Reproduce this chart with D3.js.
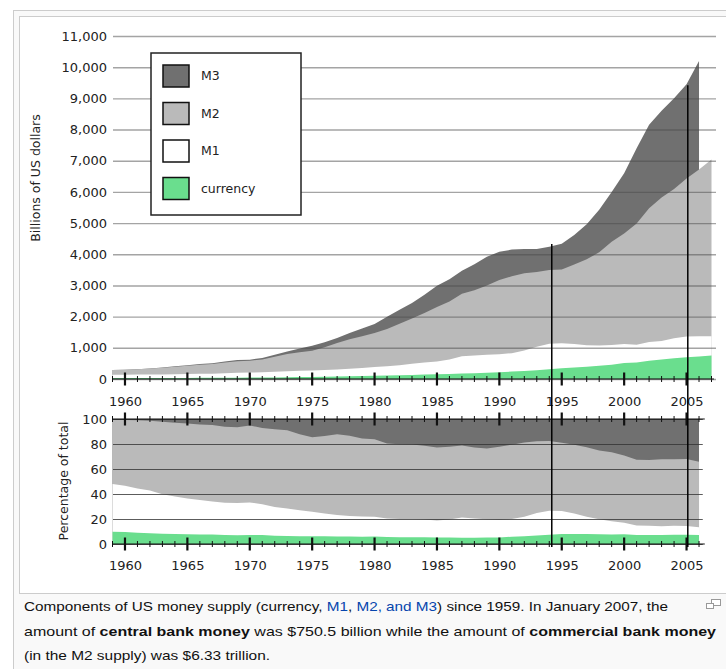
<!DOCTYPE html>
<html>
<head>
<meta charset="utf-8">
<script src="https://cdn.jsdelivr.net/npm/d3@7"></script>
<style>
  body { margin: 0; background: #fff; }
  svg text { font-family: "DejaVu Sans", sans-serif; }
  .caption text { font-family: "Liberation Sans", Arial, sans-serif; font-size: 13px; fill: #111; }
  .caption .link { fill: #0645ad; }
  .caption .b { font-weight: bold; }
</style>
</head>
<body>
<div id="chart"></div>
<script>
// US money supply, January values, billions of dollars
var years = d3.range(1959, 2008);

var currency = [28.4, 28.9, 28.7, 29.4, 30.6, 32.4, 34.0, 36.1, 38.0, 40.2,
  42.8, 45.2, 48.7, 52.0, 56.0, 61.0, 67.0, 73.4, 80.0, 87.4,
  95.5, 104.5, 113.5, 121.5, 131.5, 143.5, 153.0, 163.5, 174.5, 187.0,
  201.0, 213.0, 240.0, 259.0, 284.0, 311.0, 345.0, 368.0, 394.0, 424.0,
  459.0, 516.0, 532.0, 582.0, 627.0, 663.0, 701.0, 725.0, 750.5];

var m1 = [138.9, 140.0, 140.5, 145.2, 148.0, 153.7, 160.7, 168.6, 171.9, 184.3,
  198.7, 206.2, 215.5, 230.1, 251.5, 264.1, 274.0, 288.4, 306.4, 330.0,
  356.0, 382.7, 405.9, 441.9, 485.7, 527.1, 561.2, 628.1, 733.2, 753.0,
  779.3, 795.4, 827.2, 910.4, 1034.5, 1131.8, 1149.6, 1123.9, 1080.9, 1072.4,
  1093.7, 1122.6, 1096.6, 1190.6, 1219.6, 1306.6, 1365.8, 1374.6, 1367.0];

var m2 = [286.6, 298.2, 312.8, 335.5, 363.2, 393.2, 424.7, 459.2, 481.0, 525.4,
  566.8, 587.9, 628.1, 712.7, 805.2, 861.0, 908.7, 1019.5, 1155.4, 1273.3,
  1367.2, 1474.6, 1603.7, 1769.7, 1941.5, 2120.1, 2307.7, 2487.9, 2736.0, 2844.3,
  2998.5, 3172.8, 3296.2, 3389.1, 3431.0, 3494.8, 3514.0, 3669.0, 3840.6, 4063.1,
  4402.5, 4668.6, 4988.8, 5475.3, 5824.6, 6096.0, 6432.2, 6717.6, 7040.0];

// M3 was discontinued in 2006
var m3 = [288.8, 300.6, 316, 340, 371, 405, 441, 480, 505, 560,
  607, 620, 677, 777, 885, 980, 1065, 1180, 1317, 1472,
  1620, 1760, 1996, 2220, 2440, 2700, 2990, 3200, 3470, 3680,
  3920, 4080, 4150, 4170, 4170, 4240, 4340, 4620, 4960, 5430,
  6000, 6600, 7400, 8150, 8600, 9000, 9450, 10200, null];

var yTicks = d3.range(0, 11001, 1000);
var pctTicks = [0, 20, 40, 60, 80, 100];
var labelYears = d3.range(1960, 2006, 5);
var markerYears = [1994.2, 2005.1];
var markerTops = [4330, 9420];

var legendNames = ["M3", "M2", "M1", "currency"];
var keys = ["m3", "m2", "m1", "currency"];
var colors = { m3: "#707070", m2: "#bababa", m1: "#ffffff", currency: "#6ade8e" };

var rows = years.map(function (yr, i) {
  return { year: yr, currency: currency[i], m1: m1[i], m2: m2[i], m3: m3[i] };
});

var width = 726, height = 669;

var svg = d3.select("#chart").append("svg")
  .attr("width", width)
  .attr("height", height);

// thumbnail frame (wiki style)
svg.append("rect").attr("x", 13.5).attr("y", 10.5).attr("width", 730).attr("height", 680)
  .attr("fill", "#f9f9f9").attr("stroke", "#cccccc");
svg.append("rect").attr("x", 19.5).attr("y", 16.5).attr("width", 720).attr("height", 577)
  .attr("fill", "#ffffff").attr("stroke", "#cccccc");

var x = d3.scaleLinear().domain([1959, 2007.2]).range([112.5, 714]);
var yTop = d3.scaleLinear().domain([0, 11000]).range([379, 36]);
var yBot = d3.scaleLinear().domain([0, 100]).range([544, 419]);

var gridLeft = 113;
var topRight = 716;
var botRight = x(2006.3);

/*************** top chart ***************/
var topAreas = svg.append("g");
keys.forEach(function (k) {
  var area = d3.area()
    .defined(function (d) { return d[k] != null; })
    .x(function (d) { return x(d.year); })
    .y0(yTop(0))
    .y1(function (d) { return yTop(d[k]); });
  topAreas.append("path")
    .datum(rows)
    .attr("d", area)
    .attr("fill", colors[k]);
});

var yAxisTop = d3.axisLeft(yTop)
  .tickValues(yTicks)
  .tickFormat(d3.format(","))
  .tickSize(-(topRight - gridLeft))
  .tickPadding(6);

var gTop = svg.append("g")
  .attr("transform", "translate(" + gridLeft + ",0)")
  .call(yAxisTop);
gTop.select(".domain").remove();
gTop.selectAll(".tick line")
  .attr("stroke", "#4a4a4a").attr("stroke-opacity", 0.5).attr("stroke-width", 1.4);
gTop.selectAll(".tick text").attr("font-size", 13).attr("fill", "#222")
  .attr("font-family", "DejaVu Sans");

svg.append("text")
  .attr("transform", "translate(40,178) rotate(-90)")
  .attr("text-anchor", "middle")
  .attr("font-size", 12.5)
  .attr("fill", "#222")
  .text("Billions of US dollars");

/*************** bottom chart ***************/
var pctRows = rows.filter(function (d) { return d.m3 != null; });

var botAreas = svg.append("g");
keys.forEach(function (k) {
  var area = d3.area()
    .x(function (d) { return x(d.year); })
    .y0(yBot(0))
    .y1(function (d) { return yBot(d[k] / d.m3 * 100); });
  botAreas.append("path")
    .datum(pctRows)
    .attr("d", area)
    .attr("fill", colors[k]);
});

var yAxisBot = d3.axisLeft(yBot)
  .tickValues(pctTicks)
  .tickSize(-(botRight - gridLeft))
  .tickPadding(6);

var gBot = svg.append("g")
  .attr("transform", "translate(" + gridLeft + ",0)")
  .call(yAxisBot);
gBot.select(".domain").remove();
gBot.selectAll(".tick line")
  .attr("stroke", "#333").attr("stroke-opacity", 0.8).attr("stroke-width", 1.2);
gBot.selectAll(".tick text").attr("font-size", 13).attr("fill", "#222")
  .attr("font-family", "DejaVu Sans");

svg.append("text")
  .attr("transform", "translate(68,481) rotate(-90)")
  .attr("text-anchor", "middle")
  .attr("font-size", 12.5)
  .attr("fill", "#222")
  .text("Percentage of total");

/*************** x axes with year ticks ***************/
function yearTicks(yPos, lastYear, endX) {
  var g = svg.append("g");
  g.append("line")
    .attr("x1", gridLeft).attr("x2", endX)
    .attr("y1", yPos).attr("y2", yPos)
    .attr("stroke", "#111").attr("stroke-width", 1.2);
  d3.range(1959, Math.floor(lastYear) + 1).forEach(function (yr) {
    var major = yr % 5 === 0;
    g.append("line")
      .attr("x1", x(yr)).attr("x2", x(yr))
      .attr("y1", yPos - (major ? 6.5 : 3)).attr("y2", yPos + (major ? 6.5 : 3))
      .attr("stroke", "#111")
      .attr("stroke-width", major ? 2.2 : 1);
  });
}

function yearLabels(yPos, pad) {
  var axis = d3.axisBottom(x).tickValues(labelYears).tickFormat(d3.format("d"))
    .tickSize(0).tickPadding(pad);
  var g = svg.append("g").attr("transform", "translate(0," + yPos + ")").call(axis);
  g.select(".domain").remove();
  g.selectAll(".tick text").attr("font-size", 13).attr("fill", "#222")
    .attr("font-family", "DejaVu Sans");
}

yearTicks(yTop(0), 2007.2, 714);
yearLabels(yTop(0), 17.5);
yearTicks(yBot(100), 2006.3, botRight + 2);
yearTicks(yBot(0), 2006.3, botRight + 2);
yearLabels(yBot(0), 16.5);

/*************** marker lines ***************/
markerYears.forEach(function (yr, i) {
  svg.append("line")
    .attr("x1", x(yr)).attr("x2", x(yr))
    .attr("y1", yTop(markerTops[i])).attr("y2", yBot(0) + 3)
    .attr("stroke", "#000").attr("stroke-width", 1.5);
});

/*************** legend ***************/
var legend = svg.append("g");
legend.append("rect")
  .attr("x", 151).attr("y", 53).attr("width", 150).attr("height", 162)
  .attr("fill", "#fff").attr("stroke", "#222").attr("stroke-width", 1.5);

legendNames.forEach(function (name, i) {
  var yy = 65 + i * 37.5;
  legend.append("rect")
    .attr("x", 163).attr("y", yy).attr("width", 26).attr("height", 22)
    .attr("fill", colors[keys[i]]).attr("stroke", "#111").attr("stroke-width", 1.5);
  legend.append("text")
    .attr("x", 201).attr("y", yy + 11).attr("dy", "0.35em")
    .attr("font-size", 12.5).attr("fill", "#222")
    .text(name);
});

/*************** caption ***************/
var cap = svg.append("g").attr("class", "caption");

var l1 = cap.append("text").attr("x", 24).attr("y", 611)
  .attr("textLength", 644).attr("lengthAdjust", "spacingAndGlyphs");
l1.append("tspan").text("Components of US money supply (currency, ");
l1.append("tspan").attr("class", "link").text("M1");
l1.append("tspan").text(", ");
l1.append("tspan").attr("class", "link").text("M2, and M3");
l1.append("tspan").text(") since 1959. In January 2007, the");

var l2 = cap.append("text").attr("x", 24).attr("y", 636)
  .attr("textLength", 692).attr("lengthAdjust", "spacingAndGlyphs");
l2.append("tspan").text("amount of ");
l2.append("tspan").attr("class", "b").text("central bank money");
l2.append("tspan").text(" was $750.5 billion while the amount of ");
l2.append("tspan").attr("class", "b").text("commercial bank money");

cap.append("text").attr("x", 24).attr("y", 660)
  .attr("textLength", 246).attr("lengthAdjust", "spacingAndGlyphs")
  .text("(in the M2 supply) was $6.33 trillion.");

// enlarge icon
var icon = svg.append("g").attr("fill", "#fff").attr("stroke", "#999");
icon.append("rect").attr("x", 711.5).attr("y", 599.5).attr("width", 9).attr("height", 6);
icon.append("rect").attr("x", 706.5).attr("y", 603.5).attr("width", 7).attr("height", 5);
</script>
</body>
</html>
